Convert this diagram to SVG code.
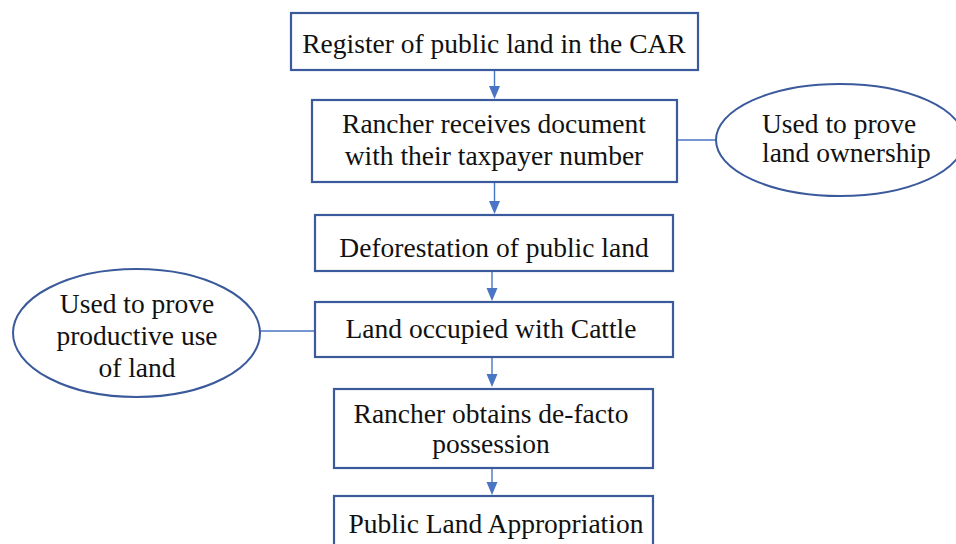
<svg xmlns="http://www.w3.org/2000/svg" width="956" height="544" viewBox="0 0 956 544">
<style>
.box{fill:#fff;stroke:#3b5a9c;stroke-width:2.2}
.ell{fill:#fff;stroke:#3b5a9c;stroke-width:2}
.t{font-family:"Liberation Serif","Times New Roman",serif;font-size:27.5px;fill:#111;text-anchor:middle}
.tl{text-anchor:start}
.c{stroke:#4a74c4;stroke-width:1.4;fill:none}
.a{fill:#4a74c4}
</style>
<rect width="956" height="544" fill="#fff"/>
<g id="connectors">
<line class="c" x1="494.5" y1="71" x2="494.5" y2="88"/>
<polygon class="a" points="489,86 500,86 494.5,99"/>
<line class="c" x1="494.5" y1="182" x2="494.5" y2="203"/>
<polygon class="a" points="489,201 500,201 494.5,214"/>
<line class="c" x1="492" y1="271" x2="492" y2="290"/>
<polygon class="a" points="486.5,288 497.5,288 492,301"/>
<line class="c" x1="492" y1="357" x2="492" y2="376"/>
<polygon class="a" points="486.5,374 497.5,374 492,387"/>
<line class="c" x1="492" y1="468" x2="492" y2="484"/>
<polygon class="a" points="486.5,482 497.5,482 492,495"/>
<line class="c" x1="677" y1="140" x2="717" y2="140"/>
<line class="c" x1="260" y1="331" x2="315" y2="331"/>
</g>
<g id="n1">
<rect class="box" x="291" y="13" width="407" height="57"/>
<text class="t" x="494" y="53">Register of public land in the CAR</text>
</g>
<g id="n2">
<rect class="box" x="312" y="100" width="365" height="82"/>
<text class="t" x="494" y="133">Rancher receives document</text>
<text class="t" x="494" y="165">with their taxpayer number</text>
</g>
<g id="n3">
<rect class="box" x="315" y="215" width="358" height="56"/>
<text class="t" x="494" y="257">Deforestation of public land</text>
</g>
<g id="n4">
<rect class="box" x="315" y="302" width="358" height="55"/>
<text class="t" x="491" y="338">Land occupied with Cattle</text>
</g>
<g id="n5">
<rect class="box" x="334" y="389" width="319" height="79"/>
<text class="t" x="491" y="423">Rancher obtains de-facto</text>
<text class="t" x="491" y="453">possession</text>
</g>
<g id="n6">
<rect class="box" x="334" y="496" width="319" height="60"/>
<text class="t" x="496" y="533">Public Land Appropriation</text>
</g>
<g id="e1">
<ellipse class="ell" cx="840" cy="140" rx="124" ry="56"/>
<text class="t tl" x="762" y="133">Used to prove</text>
<text class="t tl" x="762" y="162">land ownership</text>
</g>
<g id="e2">
<ellipse class="ell" cx="136.5" cy="333" rx="123.5" ry="64"/>
<text class="t" x="137" y="313">Used to prove</text>
<text class="t" x="137" y="345">productive use</text>
<text class="t" x="137" y="377">of land</text>
</g>
</svg>
